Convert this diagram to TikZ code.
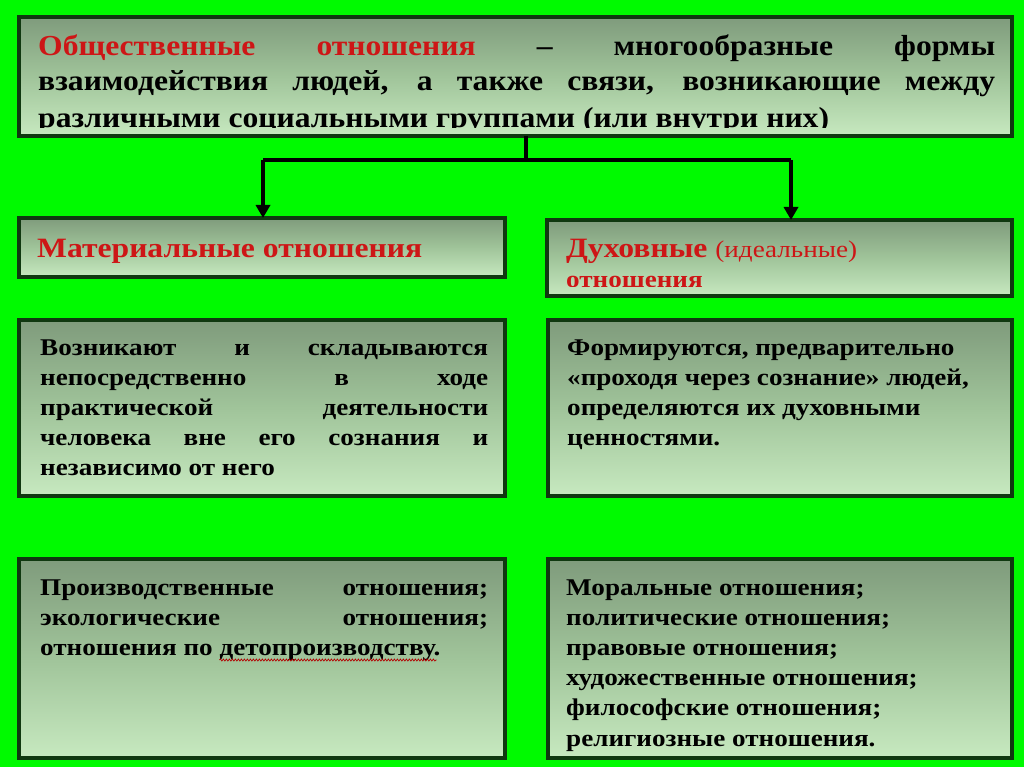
\documentclass[tikz,border=0pt]{standalone}
\usepackage{fontspec}
\setmainfont{Liberation Serif}
\newfontfamily\wfont{Liberation Serif}[FakeStretch=1.13]
\newfontfamily\tfont{Liberation Serif}[FakeStretch=1.09]
\usetikzlibrary{arrows.meta,decorations.pathmorphing}
\definecolor{bg}{RGB}{0,250,0}
\definecolor{bdr}{RGB}{16,56,16}
\definecolor{shL}{RGB}{222,255,214}
\definecolor{shM}{RGB}{160,196,154}
\definecolor{shD}{RGB}{94,114,94}
\definecolor{tred}{RGB}{205,22,22}
\pgfdeclareverticalshading{boxshade}{100bp}{color(0bp)=(shL); color(10bp)=(shL); color(50bp)=(shM); color(100bp)=(shD)}
\tikzset{
  box/.style={draw=bdr, line width=4pt, shade, shading=boxshade, inner sep=0pt, outer sep=0pt, anchor=north west},
  txt/.style={anchor=base west, inner sep=0pt, font=\wfont\bfseries\fontsize{24}{28}\selectfont},
  toptxt/.style={anchor=base west, inner sep=0pt, font=\tfont\bfseries\fontsize{29}{34}\selectfont},
  ttl/.style={anchor=base west, inner sep=0pt, text=tred},
  conn/.style={line width=4pt, black, line join=miter},
  tip/.style={-{Triangle[width=14pt,length=13pt]}}
}
\begin{document}
\begin{tikzpicture}[x=1pt,y=-1pt]
\useasboundingbox (0,0) rectangle (1024,767);
\fill[bg] (0,0) rectangle (1024,767);

% boxes
\node[box, minimum width=993pt, minimum height=119pt] (top) at (19,17) {};
\node[box, minimum width=486pt, minimum height=59pt] (mat) at (19,218) {};
\node[box, minimum width=465pt, minimum height=76pt] (duh) at (547,220) {};
\node[box, minimum width=486pt, minimum height=176pt] (ml) at (19,320) {};
\node[box, minimum width=464pt, minimum height=176pt] (mr) at (548,320) {};
\node[box, minimum width=486pt, minimum height=199pt] (bl) at (19,559) {};
\node[box, minimum width=464pt, minimum height=199pt] (br) at (548,559) {};

% connectors
\coordinate (j) at (526,160);
\coordinate (jl) at (263,160);
\coordinate (jr) at (791,160);
\draw[conn] (top.south -| j) -- (j) -- (jl);
\draw[conn] (j) -- (jr);
\draw[conn,tip] (jl) -- (jl |- mat.north);
\draw[conn,tip] (jr) -- (jr |- duh.north);

% top text
\begin{scope}
\clip (21,19) rectangle (1010,128);
\node[toptxt] (t1) at (38,56) {\makebox[957pt][s]{\textcolor{tred}{Общественные отношения} – многообразные формы}};
\node[toptxt] (t2) at (38,91) {\makebox[957pt][s]{взаимодействия людей, а также связи, возникающие между}};
\node[toptxt] (t3) at (38,128) {различными социальными группами (или внутри них)};
\end{scope}

% second row
\node[ttl, font=\wfont\bfseries\fontsize{28}{30}\selectfont] (matt) at (37,257) {Материальные отношения};
\begin{scope}
\clip (549,222) rectangle (1010,286);
\node[ttl] (duh1) at (566,257) {\wfont\fontsize{28}{30}\selectfont\bfseries Духовные \fontsize{24}{30}\selectfont\mdseries (идеальные)};
\node[ttl, font=\wfont\bfseries\fontsize{24}{30}\selectfont] (duh2) at (566,287) {отношения};
\end{scope}

% middle left
\node[txt] (ml1) at (40,355) {\makebox[448pt][s]{Возникают и складываются}};
\node[txt] (ml2) at (40,385) {\makebox[448pt][s]{непосредственно в ходе}};
\node[txt] (ml3) at (40,415) {\makebox[448pt][s]{практической деятельности}};
\node[txt] (ml4) at (40,445) {\makebox[448pt][s]{человека вне его сознания и}};
\node[txt] (ml5) at (40,475) {независимо от него};

% middle right
\node[txt] (mr1) at (567,355) {Формируются, предварительно};
\node[txt] (mr2) at (567,385) {«проходя через сознание» людей,};
\node[txt] (mr3) at (567,415) {определяются их духовными};
\node[txt] (mr4) at (567,445) {ценностями.};

% bottom left
\node[txt] (bl1) at (40,595) {\makebox[448pt][s]{Производственные отношения;}};
\node[txt] (bl2) at (40,625) {\makebox[448pt][s]{экологические отношения;}};
\node[txt] (bl3) at (40,655) {отношения по};
\node[txt] (bl3b) at ([xshift=6.5pt]bl3.base east) {детопроизводству.};
\draw[red!70!black, line width=0.7pt, decorate, decoration={snake, amplitude=1pt, segment length=3pt}]
  ([yshift=-5pt]bl3b.base west) -- ([yshift=-5pt,xshift=-4pt]bl3b.base east);

% bottom right
\begin{scope}
\clip (550,561) rectangle (1010,756);
\node[txt] (br1) at (566,595) {Моральные отношения;};
\node[txt] (br2) at (566,625) {политические отношения;};
\node[txt] (br3) at (566,655) {правовые отношения;};
\node[txt] (br4) at (566,685) {художественные отношения;};
\node[txt] (br5) at (566,715) {философские отношения;};
\node[txt] (br6) at (566,746) {религиозные отношения.};
\end{scope}
\end{tikzpicture}
\end{document}
